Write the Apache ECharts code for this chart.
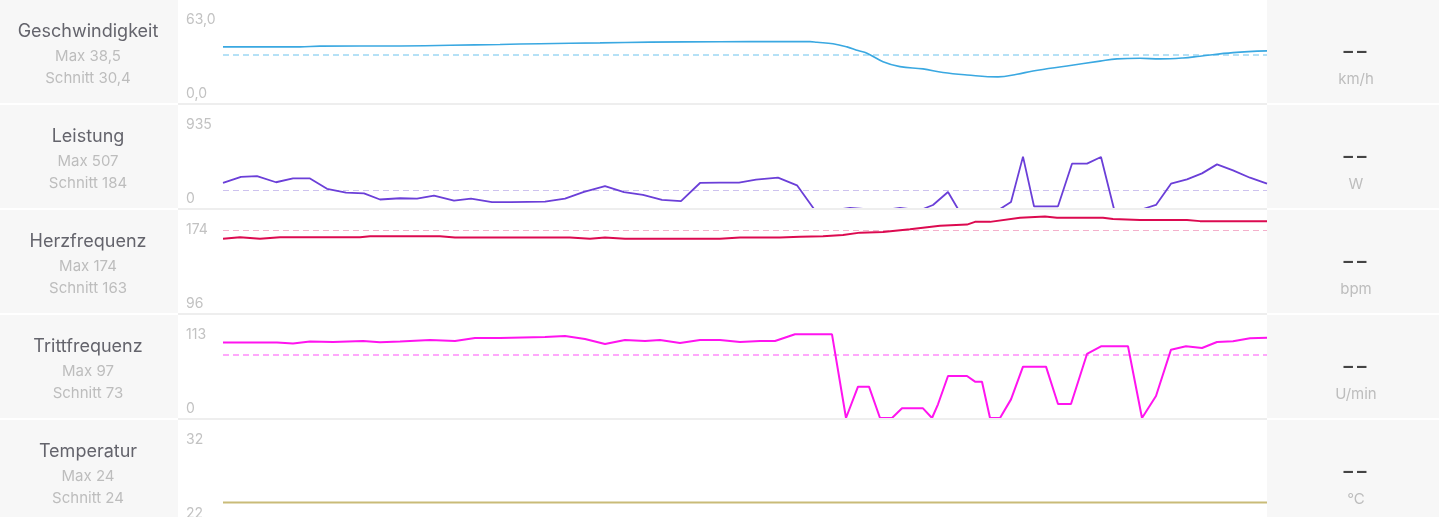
<!DOCTYPE html>
<html><head><meta charset="utf-8">
<script src="https://cdn.jsdelivr.net/npm/echarts@6/dist/echarts.min.js"></script>
<style>html,body{margin:0;padding:0;background:#fff;overflow:hidden}#c{width:1439px;height:517px}</style>
</head><body><div id="c"></div><script>
// ---- labels ----
const names = ['Geschwindigkeit','Leistung','Herzfrequenz','Trittfrequenz','Temperatur'];
const maxLabels = ['Max 38,5','Max 507','Max 174','Max 97','Max 24'];
const avgLabels = ['Schnitt 30,4','Schnitt 184','Schnitt 163','Schnitt 73','Schnitt 24'];
const units = ['km/h','W','bpm','U/min','°C'];
const currentValues = ['--','--','--','--','--'];
const axisTopLabels = ['63,0','935','174','113','32'];
const axisBottomLabels = ['0,0','0','96','0','22'];
const avgValues = [30.4, 184, 163, 73, null];
const T_END = 1044; // seconds

// ---- series: [time s, value] ----
const speedData = [[0,35.0],[77,35.0],[97,35.5],[177,35.6],[227,36.0],[277,36.5],[317,37.0],[377,37.5],[427,38.0],[497,38.2],[557,38.3],[587,38.3],[594,37.9],[610,37.0],[624,35.0],[635,32.7],[644,31.0],[660,25.8],[677,22.7],[700,21.3],[720,19.0],[744,17.5],[775,16.3],[794,17.9],[810,20.0],[844,23.1],[877,26.1],[894,27.5],[917,27.9],[937,27.5],[960,28.1],[977,29.2],[1010,31.4],[1044,32.5]];

const powerData = [[0,252],[18,311],[34,318],[53,259],[70,296],[87,296],[104,196],[123,159],[141,152],[157,92],[177,104],[194,100],[211,130],[231,81],[248,100],[269,67],[288,67],[322,71],[342,100],[361,166],[382,222],[401,163],[420,136],[439,89],[458,77],[477,252],[497,256],[516,256],[533,285],[555,303],[574,229],[591,0],[620,0],[627,10],[640,0],[670,0],[677,10],[685,0],[700,0],[710,39],[725,165],[735,0],[777,0],[788,68],[800,507],[811,26],[835,26],[849,439],[864,439],[878,503],[891,0],[920,0],[933,39],[948,245],[964,287],[979,345],[994,432],[1010,374],[1027,303],[1044,245]];

const heartData = [[0,156],[17,157.2],[37,156],[57,157.2],[137,157.2],[147,158],[217,158],[232,157],[347,157],[367,156],[382,157],[402,156],[497,156],[517,157],[557,157],[577,157.6],[600,158],[620,159],[637,161],[660,161.6],[687,163.8],[717,166.5],[744,167.5],[752,169.7],[767,169.7],[797,173],[822,174],[834,173],[880,173],[890,172],[917,171.3],[964,171.3],[977,170.3],[1044,170.3]];

const cadenceData = [[0,87.6],[54,87.6],[70,86.3],[87,88.7],[110,88],[140,89.3],[157,87.8],[177,88.7],[207,90.4],[232,89.3],[252,92.8],[277,92.8],[322,93.9],[342,95],[362,91.6],[382,85.8],[402,90.4],[422,89.3],[437,90.4],[457,87],[477,90.4],[497,90.4],[517,88.1],[537,89.3],[552,89.3],[572,97],[609,97],[623,0],[635,36.3],[646,36.3],[657,0],[669,0],[679,11.2],[700,11.2],[709,0],[715,15.9],[725,48.7],[744,48.7],[752,42.1],[759,42.1],[767,0],[777,0],[788,21.6],[800,59.5],[823,59.5],[835,16.2],[848,16.2],[864,74.2],[878,83.1],[905,83.1],[919,0],[933,25.5],[948,79.2],[963,83.1],[979,81.2],[994,88.1],[1010,88.9],[1027,92.4],[1044,93.1]];

const tempData = [[0,24],[1044,24]];

// ---- styling / layout ----
const seriesList = [speedData, powerData, heartData, cadenceData, tempData];
const colors = ['#3aa8e1','#6b3fd8','#dc0a50','#ff14ef','#c9bb78'];
const avgColors = ['#b5e1f6','#cdc2ee','#f4b0cb','#ffa8fb','#e6dfbf'];
const avgWidths = [2, 1, 1, 2, 1];
const lineWidths = [1.6, 1.8, 2, 2, 2];
const smoothFlags = [true, false, false, false, false];
const yRanges = [[0,63],[0,1007],[96,179.3],[0,119.4],[22.6,32]];
const gridBoxes = [[2,101],[105,104],[210,103],[315,103],[420,97]];
const ROW = 105, LEFT_W = 178, CHART_R = 1267, W = 1439;
const FONT = 'Inter';

const grids = [], xAxes = [], yAxes = [], series = [], graphics = [];
for (let i = 0; i < 5; i++) {
  grids.push({left: 223, right: W - CHART_R, top: gridBoxes[i][0], height: gridBoxes[i][1], containLabel: false});
  xAxes.push({type:'value', gridIndex:i, min:0, max:T_END, show:false});
  yAxes.push({type:'value', gridIndex:i, min:yRanges[i][0], max:yRanges[i][1], show:false});
  const s = {
    type:'line', xAxisIndex:i, yAxisIndex:i, data: seriesList[i], showSymbol:false, symbol:'none',
    smooth: smoothFlags[i] ? 0.4 : false, clip:true, animation:false,
    lineStyle:{color: colors[i], width: lineWidths[i]}, z: 3
  };
  if (avgValues[i] !== null) {
    s.markLine = {silent:true, symbol:'none', label:{show:false}, animation:false,
      lineStyle:{color: avgColors[i], type:[6,4], width: avgWidths[i]},
      data:[{yAxis: avgValues[i]}], z: 2};
  }
  series.push(s);

  const top = i * ROW;
  // side panels
  graphics.push({type:'rect', shape:{x:0, y:top, width:LEFT_W, height:103}, style:{fill:'#f7f7f7'}, z:0});
  graphics.push({type:'rect', shape:{x:CHART_R, y:top, width:W-CHART_R, height:103}, style:{fill:'#f7f7f7'}, z:0});
  // separator below chart area
  graphics.push({type:'rect', shape:{x:LEFT_W, y:top+103, width:CHART_R-LEFT_W, height:2}, style:{fill:'#eeeeee'}, z:100});
  // left texts
  graphics.push({type:'text', x:88, y:top+32, z:100, style:{text:names[i], fill:'#64646c', font:'18px ' + FONT, textAlign:'center', textVerticalAlign:'middle'}});
  graphics.push({type:'text', x:88, y:top+56, z:100, style:{text:maxLabels[i], fill:'#bdbdbd', font:'15px ' + FONT, textAlign:'center', textVerticalAlign:'middle'}});
  graphics.push({type:'text', x:88, y:top+78, z:100, style:{text:avgLabels[i], fill:'#bdbdbd', font:'15px ' + FONT, textAlign:'center', textVerticalAlign:'middle'}});
  // right texts
  graphics.push({type:'text', x:1355, y:top+52, scaleX:1.45, z:100, style:{text:currentValues[i], fill:'#444444', font:'600 20px ' + FONT, textAlign:'center', textVerticalAlign:'middle'}});
  graphics.push({type:'text', x:1356, y:top+79, z:100, style:{text:units[i], fill:'#bdbdbd', font:'15px ' + FONT, textAlign:'center', textVerticalAlign:'middle'}});
  // axis labels
  graphics.push({type:'text', x:186, y:top+20, z:100, style:{text:axisTopLabels[i], fill:'#c2c2c2', font:'14px ' + FONT, textAlign:'left', textVerticalAlign:'middle'}});
  graphics.push({type:'text', x:186, y:top+94, z:100, style:{text:axisBottomLabels[i], fill:'#c2c2c2', font:'14px ' + FONT, textAlign:'left', textVerticalAlign:'middle'}});
}

const chart = echarts.init(document.getElementById('c'), null, {renderer:'canvas'});
chart.setOption({
  animation:false,
  backgroundColor:'#ffffff',
  grid: grids, xAxis: xAxes, yAxis: yAxes, series: series,
  graphic: {elements: graphics}
});
</script></body></html>
